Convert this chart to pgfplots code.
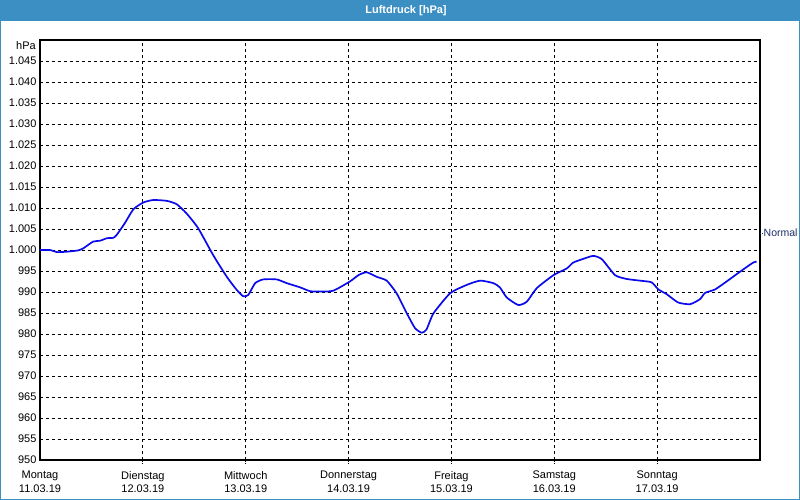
\documentclass[border=0pt]{standalone}
\usepackage{pgfplots}
\pgfplotsset{compat=1.18}
\usepackage{fontspec}
\setmainfont{Liberation Sans}
\definecolor{titlebar}{RGB}{60,143,195}
\definecolor{navy}{RGB}{30,45,105}
\definecolor{curve}{RGB}{10,10,235}
\begin{document}
\begin{tikzpicture}[x=1pt,y=1pt]
\fill[white] (-40,-40) rectangle (760,460);
\fill[titlebar] (-40,439.3) rectangle (760,460);
\draw[titlebar, line width=1pt] (-39.5,-39.5) -- (-39.5,439.5) (759.5,439.5) -- (759.5,-39.5) -- (-39.5,-39.5);
\path[use as bounding box] (-40,-40) rectangle (760,460);
\node[white, font=\bfseries\fontsize{11}{13}\selectfont] at (366,449.6) {Luftdruck [hPa]};
\begin{axis}[
  at={(0,0)}, anchor=south west, scale only axis,
  width=720pt, height=420pt,
  xmin=0, xmax=168, ymin=950, ymax=1050,
  xtick={0,24,48,72,96,120,144},
  xticklabels={{Montag\\11.03.19},{Dienstag\\12.03.19},{Mittwoch\\13.03.19},{Donnerstag\\14.03.19},{Freitag\\15.03.19},{Samstag\\16.03.19},{Sonntag\\17.03.19}},
  ytick={950,955,...,1045},
  grid=major,
  major grid style={black, line width=0.8pt, dash pattern=on 3pt off 3pt},
  axis line style={black, line width=1.2pt},
  major tick length=0pt,
  tick label style={font=\fontsize{11}{13.6}\selectfont, text=black},
  xticklabel style={align=center, yshift=-7.5pt},
  /pgf/number format/.cd, 1000 sep={.}, assume math mode=true,
  /pgfplots/.cd,
  clip=false,
]
\addplot[curve, line width=1.7pt, smooth, tension=0.35] table {
x y
0 1000.0
2.3 1000.0
4.0 999.5
6.3 999.6
8.9 999.9
10.1 1000.4
12.4 1002.0
14.0 1002.2
15.6 1002.8
17.1 1002.9
17.9 1003.6
19.8 1006.4
21.8 1009.7
24.1 1011.3
26.4 1011.9
29.6 1011.7
31.9 1010.9
34.2 1008.7
36.9 1005.2
40.4 998.8
43.6 993.6
45.9 990.5
47.4 989.0
48.6 989.3
50.2 992.1
52.1 993.0
55.2 993.0
57.6 992.1
60.7 991.1
63.0 990.2
65.3 990.1
68.4 990.3
72.3 992.5
74.3 994.0
76.2 994.7
78.6 993.6
80.9 992.7
83.2 989.7
85.6 984.9
87.5 981.4
89.1 980.3
90.2 981.1
91.8 984.9
95.7 989.7
99.6 991.7
102.7 992.7
105.8 992.1
107.3 991.1
108.9 988.7
111.6 986.9
113.6 987.7
115.9 990.9
119.8 994.0
122.9 995.6
124.4 997.0
126.8 997.9
129.1 998.6
131.1 997.8
134.2 994.0
136.9 993.1
140.0 992.7
142.7 992.3
144.3 990.6
146.2 989.5
148.9 987.5
151.7 987.1
154.0 988.3
155.2 989.8
157.5 990.6
160.2 992.5
163.3 994.8
166.4 997.0
167.2 997.2
};
\foreach \d in {24,48,72,96,120,144} {
  \edef\tmp{\noexpand\draw[black, line width=0.8pt, dash pattern=on 2pt off 1pt] (axis cs:\d,950) -- ([yshift=-4pt]axis cs:\d,950);}\tmp
}
\coordinate (N) at (axis cs:168,1004);
\coordinate (H) at (axis cs:0,1048.6);
\end{axis}
\draw[navy, line width=0.8pt, dash pattern=on 1pt off 1pt] (N) -- ([xshift=3pt]N);
\node[anchor=west, text=navy, font=\fontsize{10.5}{13}\selectfont, inner sep=0pt] at ([xshift=3.5pt]N) {Normal};
\node[anchor=east, font=\fontsize{11}{13}\selectfont, inner sep=0pt] at ([xshift=-4pt]H) {hPa};
\end{tikzpicture}
\end{document}
